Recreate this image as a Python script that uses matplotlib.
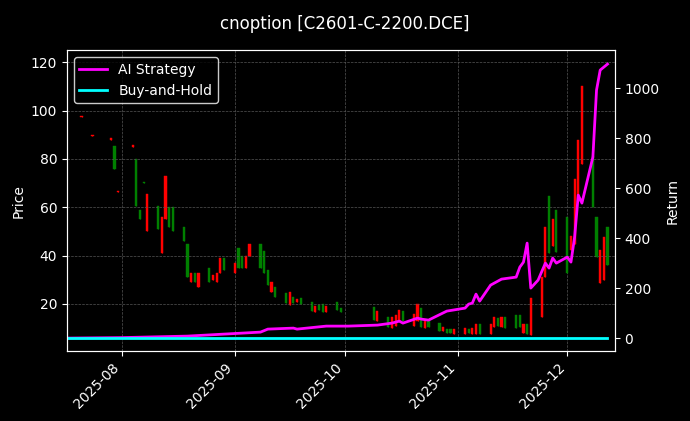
import matplotlib
matplotlib.use("Agg")
import matplotlib.pyplot as plt
import matplotlib.dates as mdates
import pandas as pd
import numpy as np

# candle data: date, open, close (high/low = extremes)
candle_dates = ["2025-07-21","2025-07-24","2025-07-29","2025-07-30","2025-07-31","2025-08-04","2025-08-05","2025-08-06",
 "2025-08-07","2025-08-08","2025-08-11","2025-08-12","2025-08-13","2025-08-14","2025-08-15","2025-08-18","2025-08-19",
 "2025-08-20","2025-08-21","2025-08-22","2025-08-25","2025-08-26","2025-08-27","2025-08-28","2025-08-29","2025-09-01",
 "2025-09-02","2025-09-03","2025-09-04","2025-09-05","2025-09-08","2025-09-09","2025-09-10","2025-09-11","2025-09-12",
 "2025-09-15","2025-09-16","2025-09-17","2025-09-18","2025-09-19","2025-09-22","2025-09-23","2025-09-24","2025-09-25",
 "2025-09-26","2025-09-29","2025-09-30","2025-10-09","2025-10-10","2025-10-13","2025-10-14","2025-10-15","2025-10-16",
 "2025-10-17","2025-10-20","2025-10-21","2025-10-22","2025-10-23","2025-10-24","2025-10-27","2025-10-28","2025-10-29",
 "2025-10-30","2025-10-31","2025-11-03","2025-11-04","2025-11-05","2025-11-06","2025-11-07","2025-11-10","2025-11-11",
 "2025-11-12","2025-11-13","2025-11-14","2025-11-17","2025-11-18","2025-11-19","2025-11-20","2025-11-21","2025-11-24",
 "2025-11-25","2025-11-26","2025-11-27","2025-11-28","2025-12-01","2025-12-02","2025-12-03","2025-12-04","2025-12-05",
 "2025-12-08","2025-12-09","2025-12-10","2025-12-11","2025-12-12"]
opens  = [97.2,89.3,88.0,85.4,66.4,85.1,80.0,59.0,70.6,50.0,60.4,41.0,55.0,60.0,60.0,52.0,45.0,29.0,33.0,27.0,35.0,30.0,29.0,33.0,39.0,33.0,
 43.0,40.0,35.0,40.0,45.0,42.0,34.0,25.0,27.0,24.6,19.6,23.0,21.0,22.5,21.0,16.6,19.6,20.0,16.6,21.0,18.5,18.7,13.0,14.6,10.0,11.0,13.0,
 17.0,11.0,13.0,18.5,10.0,13.3,12.0,9.0,9.5,9.5,7.5,7.5,9.5,7.5,7.5,11.7,7.5,10.4,14.0,10.4,14.6,15.4,15.4,8.0,11.7,7.0,
 14.6,31.0,64.6,43.8,59.0,56.0,42.5,45.0,62.0,78.0,81.0,56.0,28.8,30.0,52.0]
closes = [97.6,89.8,88.5,75.8,66.9,85.6,60.4,55.0,70.2,65.4,50.8,55.8,73.0,52.0,50.0,46.0,31.0,33.0,29.0,33.0,29.0,32.0,33.0,39.0,34.0,37.0,
 35.0,35.0,40.0,45.0,35.0,33.0,28.0,29.0,23.0,20.4,25.0,20.4,22.0,20.0,17.0,19.0,17.4,16.6,19.0,17.4,16.6,13.3,17.0,10.4,14.6,15.4,17.3,
 13.0,16.0,19.8,10.4,13.3,10.4,9.0,10.4,8.0,8.0,9.5,10.0,8.0,10.0,11.7,7.5,11.7,14.6,11.0,14.6,10.0,10.0,10.4,11.7,7.5,22.5,
 31.0,51.7,41.0,55.0,41.7,33.0,48.0,71.7,88.0,110.0,60.0,39.6,42.5,47.5,36.0]

strat_dates = ["2025-07-17","2025-08-01","2025-08-19","2025-09-08","2025-09-10","2025-09-17","2025-09-18","2025-09-26","2025-10-02",
 "2025-10-10","2025-10-14","2025-10-16","2025-10-17","2025-10-21","2025-10-22","2025-10-24","2025-10-29","2025-11-03","2025-11-04",
 "2025-11-05","2025-11-06","2025-11-07","2025-11-10","2025-11-11","2025-11-13","2025-11-17","2025-11-18","2025-11-19","2025-11-20",
 "2025-11-21","2025-11-23","2025-11-25","2025-11-26","2025-11-27","2025-11-28","2025-12-01","2025-12-02","2025-12-03","2025-12-04",
 "2025-12-05","2025-12-08","2025-12-09","2025-12-10","2025-12-12"]
strat_vals = [0,2,8,24,36,40,36,48,48,52,60,68,60,80,76,72,108,120,136,140,176,148,212,220,236,244,284,304,380,200,232,300,280,
 320,300,324,304,404,572,540,724,992,1072,1096]
bh_dates = ["2025-07-17","2025-12-12"]
bh_vals = [0,0]

fig = plt.figure(figsize=(6.9,4.21), dpi=100, facecolor="black")
ax = fig.add_axes([0.097,0.166,0.794,0.715], facecolor="black")
cd = pd.to_datetime(candle_dates)
o = np.array(opens); c = np.array(closes)
cols = np.where(c >= o, "red", "green")
ax.vlines(cd, np.minimum(o,c), np.maximum(o,c), colors=cols, linewidth=0.8)
ax.bar(cd, np.abs(c-o), bottom=np.minimum(o,c), width=0.6, color=cols, edgecolor=cols, linewidth=0.3)
ax.set_ylim(0.5,125)
ax.set_xlim(pd.Timestamp("2025-07-17"), pd.Timestamp("2025-12-14"))
ax.set_ylabel("Price", color="white")
ax.grid(True, color="#555555", linestyle="--", linewidth=0.5)
ax.xaxis.set_major_locator(mdates.MonthLocator())
ax.xaxis.set_major_formatter(mdates.DateFormatter("%Y-%m"))
plt.setp(ax.get_xticklabels(), rotation=45, ha="right")

ax2 = ax.twinx()
l1, = ax2.plot(pd.to_datetime(strat_dates), strat_vals, color="#ff00ff", linewidth=2, label="AI Strategy")
l2, = ax2.plot(pd.to_datetime(bh_dates), bh_vals, color="#00ffff", linewidth=2, label="Buy-and-Hold")
ax2.set_ylim(-52,1152)
ax2.set_ylabel("Return", color="white")
for a in (ax, ax2):
    a.tick_params(colors="white")
    for s in a.spines.values():
        s.set_color("white")
leg = ax2.legend(handles=[l1,l2], loc="upper left", facecolor="black", edgecolor="white", labelcolor="white")
fig.suptitle("cnoption [C2601-C-2200.DCE]", color="white", y=0.965)
fig.savefig("out.png", facecolor="black")
